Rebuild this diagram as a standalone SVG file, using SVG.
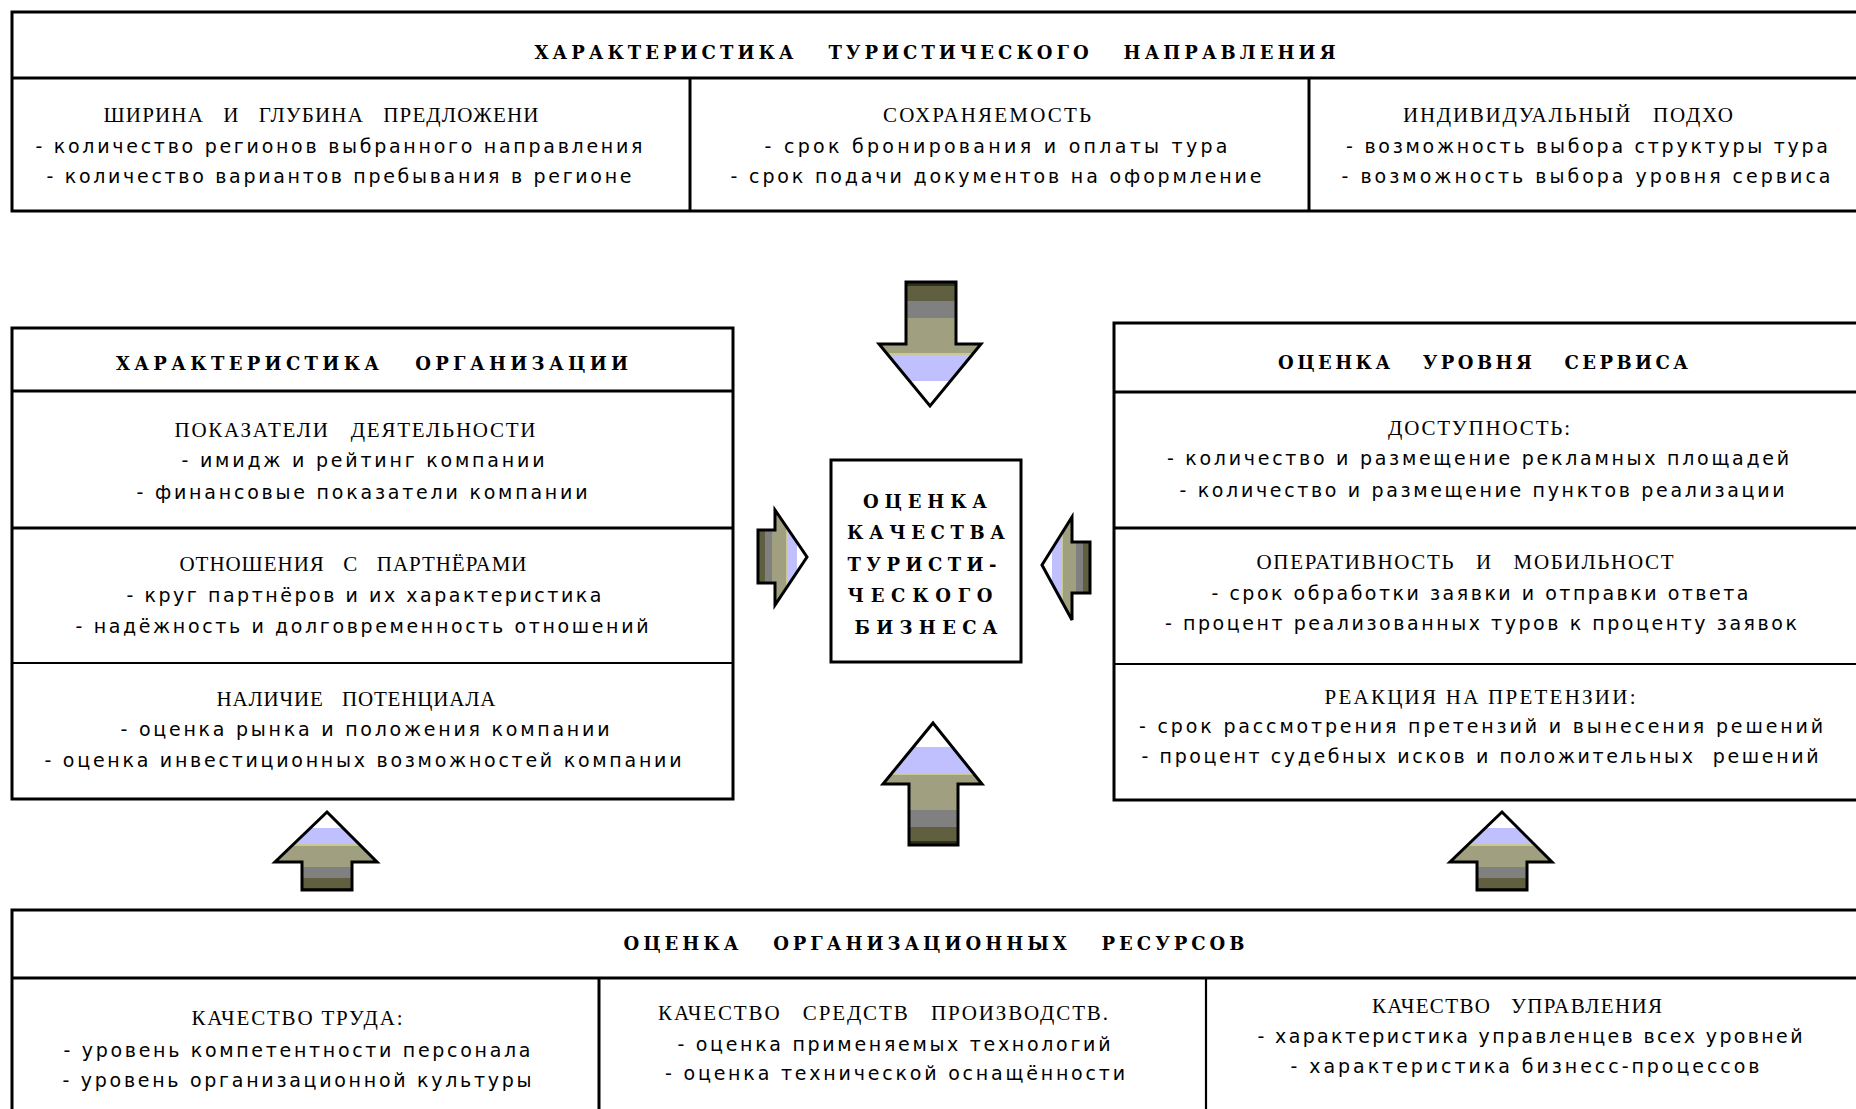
<svg xmlns="http://www.w3.org/2000/svg" width="1856" height="1109" viewBox="0 0 1856 1109" xml:space="preserve">
<style>
text{white-space:pre}
.box{fill:#fff;stroke:#000;stroke-width:3}
.ln{stroke:#000;stroke-width:3;fill:none}
.ln2{stroke:#000;stroke-width:2.2;fill:none}
.ttl{font-family:"DejaVu Serif","Liberation Serif",serif;font-weight:bold;font-size:18px;fill:#000;text-anchor:middle}
.hd{font-family:"Liberation Serif","DejaVu Serif",serif;font-size:21px;fill:#000;text-anchor:middle}
.it{font-family:"DejaVu Sans","Liberation Sans",sans-serif;font-size:19px;fill:#000;text-anchor:middle}
.arr{stroke:#000;stroke-width:3;stroke-linejoin:miter}
</style>
<defs>
<linearGradient id="band" x1="0" y1="0" x2="0" y2="1">
<stop offset="0" stop-color="#303020"/>
<stop offset="0.03" stop-color="#303020"/>
<stop offset="0.03" stop-color="#606040"/>
<stop offset="0.15" stop-color="#606040"/>
<stop offset="0.15" stop-color="#808080"/>
<stop offset="0.29" stop-color="#808080"/>
<stop offset="0.29" stop-color="#a0a080"/>
<stop offset="0.57" stop-color="#a0a080"/>
<stop offset="0.57" stop-color="#c8c890"/>
<stop offset="0.585" stop-color="#c8c890"/>
<stop offset="0.585" stop-color="#c0c0ff"/>
<stop offset="0.8" stop-color="#c0c0ff"/>
<stop offset="0.8" stop-color="#ffffff"/>
<stop offset="1" stop-color="#ffffff"/>
</linearGradient>
<linearGradient id="gDown" href="#band" x1="0" y1="0" x2="0" y2="1"/>
<linearGradient id="gUp" href="#band" x1="0" y1="1" x2="0" y2="0"/>
<linearGradient id="gRight" href="#band" x1="0" y1="0" x2="1" y2="0"/>
<linearGradient id="gLeft" href="#band" x1="1" y1="0" x2="0" y2="0"/>
</defs>
<rect width="1856" height="1109" fill="#fff"/>

<!-- destination characteristics -->
<g id="node-destination">
<rect class="box" x="12" y="12" width="1860" height="199"/>
<line class="ln" x1="12" y1="78" x2="1860" y2="78"/>
<line class="ln" x1="690" y1="78" x2="690" y2="211"/>
<line class="ln" x1="1309" y1="78" x2="1309" y2="211"/>
<text class="ttl" x="935" y="59" textLength="801" lengthAdjust="spacing">ХАРАКТЕРИСТИКА   ТУРИСТИЧЕСКОГО   НАПРАВЛЕНИЯ</text>
<text class="hd" x="321" y="122" textLength="435" lengthAdjust="spacing">ШИРИНА   И   ГЛУБИНА   ПРЕДЛОЖЕНИ</text>
<text class="it" x="339" y="153" textLength="607" lengthAdjust="spacing">- количество регионов выбранного направления</text>
<text class="it" x="339" y="183" textLength="585" lengthAdjust="spacing">- количество вариантов пребывания в регионе</text>
<text class="hd" x="987" y="122" textLength="208" lengthAdjust="spacing">СОХРАНЯЕМОСТЬ</text>
<text class="it" x="996" y="153" textLength="463" lengthAdjust="spacing">- срок бронирования и оплаты тура</text>
<text class="it" x="996" y="183" textLength="531" lengthAdjust="spacing">- срок подачи документов на оформление</text>
<text class="hd" x="1568" y="122" textLength="330" lengthAdjust="spacing">ИНДИВИДУАЛЬНЫЙ   ПОДХО</text>
<text class="it" x="1587" y="153" textLength="482" lengthAdjust="spacing">- возможность выбора структуры тура</text>
<text class="it" x="1586" y="183" textLength="489" lengthAdjust="spacing">- возможность выбора уровня сервиса</text>
</g>

<!-- organisation characteristics -->
<g id="node-organization">
<rect class="box" x="12" y="328" width="721" height="471"/>
<line class="ln" x1="12" y1="391" x2="733" y2="391"/>
<line class="ln" x1="12" y1="528" x2="733" y2="528"/>
<line class="ln2" x1="12" y1="663" x2="733" y2="663"/>
<text class="ttl" x="372" y="370" textLength="512" lengthAdjust="spacing">ХАРАКТЕРИСТИКА   ОРГАНИЗАЦИИ</text>
<text class="hd" x="355" y="437" textLength="361" lengthAdjust="spacing">ПОКАЗАТЕЛИ   ДЕЯТЕЛЬНОСТИ</text>
<text class="it" x="363" y="467" textLength="363" lengthAdjust="spacing">- имидж и рейтинг компании</text>
<text class="it" x="362" y="499" textLength="451" lengthAdjust="spacing">- финансовые показатели компании</text>
<text class="hd" x="353" y="571" textLength="347" lengthAdjust="spacing">ОТНОШЕНИЯ   С   ПАРТНЁРАМИ</text>
<text class="it" x="364" y="602" textLength="475" lengthAdjust="spacing">- круг партнёров и их характеристика</text>
<text class="it" x="362" y="633" textLength="573" lengthAdjust="spacing">- надёжность и долговременность отношений</text>
<text class="hd" x="356" y="706" textLength="279" lengthAdjust="spacing">НАЛИЧИЕ   ПОТЕНЦИАЛА</text>
<text class="it" x="365" y="736" textLength="489" lengthAdjust="spacing">- оценка рынка и положения компании</text>
<text class="it" x="363" y="767" textLength="637" lengthAdjust="spacing">- оценка инвестиционных возможностей компании</text>
</g>

<!-- service level -->
<g id="node-service">
<rect class="box" x="1114" y="323" width="760" height="477"/>
<line class="ln" x1="1114" y1="392" x2="1874" y2="392"/>
<line class="ln" x1="1114" y1="528" x2="1874" y2="528"/>
<line class="ln2" x1="1114" y1="664" x2="1874" y2="664"/>
<text class="ttl" x="1483" y="369" textLength="410" lengthAdjust="spacing">ОЦЕНКА   УРОВНЯ   СЕРВИСА</text>
<text class="hd" x="1479" y="435" textLength="182" lengthAdjust="spacing">ДОСТУПНОСТЬ:</text>
<text class="it" x="1478" y="465" textLength="622" lengthAdjust="spacing">- количество и размещение рекламных площадей</text>
<text class="it" x="1482" y="497" textLength="605" lengthAdjust="spacing">- количество и размещение пунктов реализации</text>
<text class="hd" x="1465" y="569" textLength="417" lengthAdjust="spacing">ОПЕРАТИВНОСТЬ   И   МОБИЛЬНОСТ</text>
<text class="it" x="1480" y="600" textLength="537" lengthAdjust="spacing">- срок обработки заявки и отправки ответа</text>
<text class="it" x="1481" y="630" textLength="632" lengthAdjust="spacing">- процент реализованных туров к проценту заявок</text>
<text class="hd" x="1480" y="704" textLength="311" lengthAdjust="spacing">РЕАКЦИЯ НА ПРЕТЕНЗИИ:</text>
<text class="it" x="1481" y="733" textLength="684" lengthAdjust="spacing">- срок рассмотрения претензий и вынесения решений</text>
<text class="it" x="1480" y="763" textLength="677" lengthAdjust="spacing">- процент судебных исков и положительных  решений</text>
</g>

<!-- central assessment -->
<g id="node-quality">
<rect class="box" x="831" y="460" width="190" height="202"/>
<text class="ttl" x="925" y="508" textLength="124" lengthAdjust="spacing">ОЦЕНКА</text>
<text class="ttl" x="926" y="539" textLength="158" lengthAdjust="spacing">КАЧЕСТВА</text>
<text class="ttl" x="922" y="571" textLength="149" lengthAdjust="spacing">ТУРИСТИ-</text>
<text class="ttl" x="920" y="602" textLength="145" lengthAdjust="spacing">ЧЕСКОГО</text>
<text class="ttl" x="926" y="634" textLength="143" lengthAdjust="spacing">БИЗНЕСА</text>
</g>

<!-- organisational resources -->
<g id="node-resources">
<rect class="box" x="12" y="910" width="1860" height="220"/>
<line class="ln" x1="12" y1="978" x2="1872" y2="978"/>
<line class="ln" x1="599" y1="978" x2="599" y2="1130"/>
<line class="ln2" x1="1206" y1="978" x2="1206" y2="1130"/>
<text class="ttl" x="934" y="950" textLength="621" lengthAdjust="spacing">ОЦЕНКА   ОРГАНИЗАЦИОННЫХ   РЕСУРСОВ</text>
<text class="hd" x="297" y="1025" textLength="211" lengthAdjust="spacing">КАЧЕСТВО ТРУДА:</text>
<text class="it" x="297" y="1057" textLength="467" lengthAdjust="spacing">- уровень компетентности персонала</text>
<text class="it" x="297" y="1087" textLength="469" lengthAdjust="spacing">- уровень организационной культуры</text>
<text class="hd" x="883" y="1020" textLength="450" lengthAdjust="spacing">КАЧЕСТВО   СРЕДСТВ   ПРОИЗВОДСТВ.</text>
<text class="it" x="894" y="1051" textLength="433" lengthAdjust="spacing">- оценка применяемых технологий</text>
<text class="it" x="895" y="1080" textLength="460" lengthAdjust="spacing">- оценка технической оснащённости</text>
<text class="hd" x="1517" y="1013" textLength="290" lengthAdjust="spacing">КАЧЕСТВО   УПРАВЛЕНИЯ</text>
<text class="it" x="1530" y="1043" textLength="545" lengthAdjust="spacing">- характеристика управленцев всех уровней</text>
<text class="it" x="1525" y="1073" textLength="469" lengthAdjust="spacing">- характеристика бизнесс-процессов</text>
</g>

<!-- block arrows pointing into the central assessment -->
<g id="connectors">
<polygon class="arr" fill="url(#gDown)" points="906,282 956,282 956,344 981,344 930,406 879,344 906,344"/>
<polygon class="arr" fill="url(#gUp)" points="933,723 982,784 958,784 958,845 909,845 909,784 883,784"/>
<polygon class="arr" fill="url(#gRight)" points="758,530 775,530 775,510 807,557 775,605 775,583 758,583"/>
<polygon class="arr" fill="url(#gLeft)" points="1090,542 1072,542 1072,517 1042,565 1072,620 1072,593 1090,593"/>
<polygon class="arr" fill="url(#gUp)" points="327,812 377,862 352,862 352,890 302,890 302,862 275,862"/>
<polygon class="arr" fill="url(#gUp)" points="1502,812 1552,862 1527,862 1527,890 1477,890 1477,862 1450,862"/>
</g>
</svg>
